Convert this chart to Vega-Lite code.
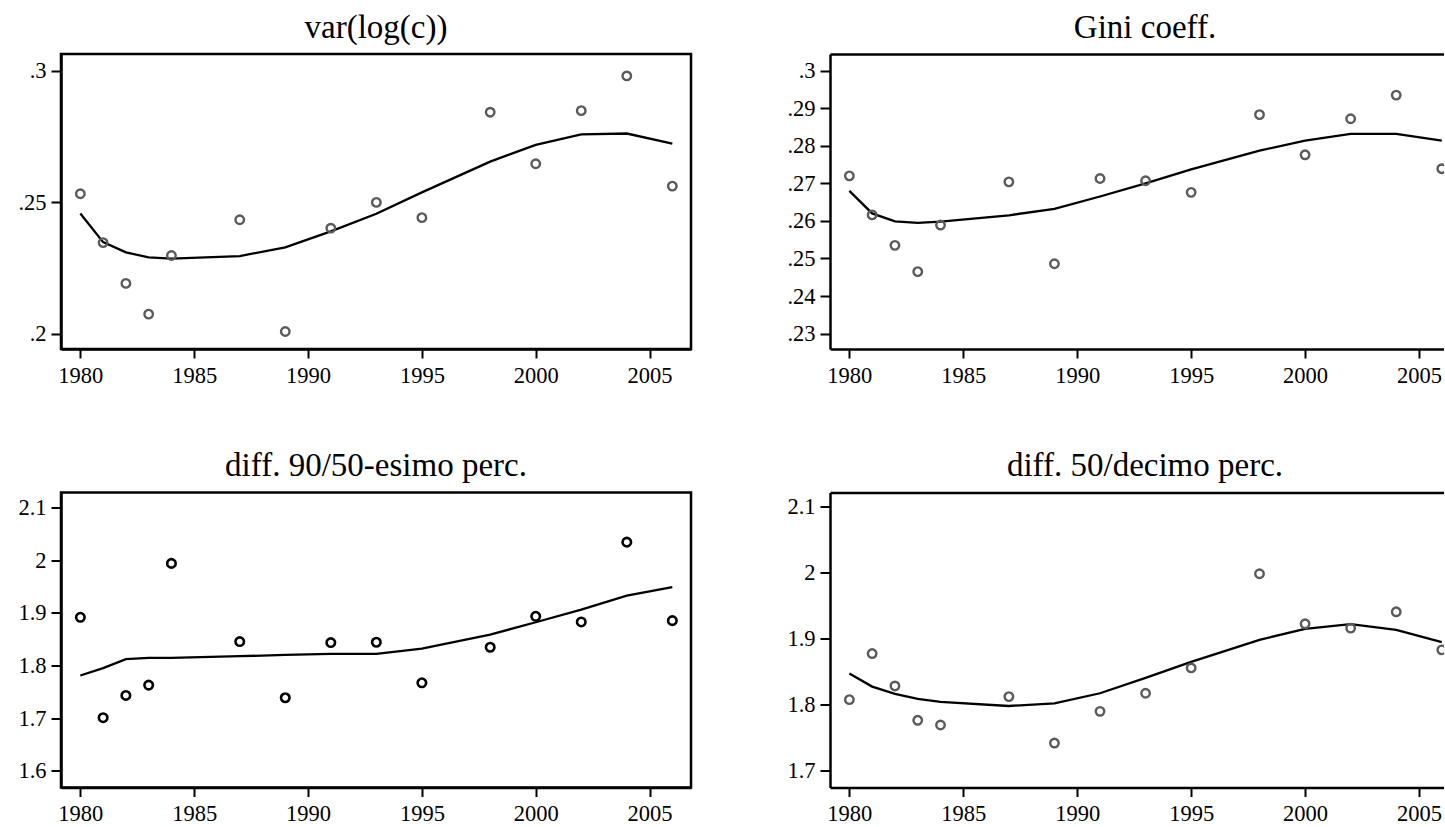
{
  "$schema": "https://vega.github.io/schema/vega-lite/v6.json",
  "background": "white",
  "padding": {"left": 1, "top": 10, "right": 0, "bottom": 0},
  "config": {
    "font": "Liberation Serif",
    "view": {"stroke": "black", "strokeWidth": 2.5},
    "axis": {"grid": false, "domain": true, "domainColor": "black", "domainWidth": 2.5, "tickColor": "black", "tickWidth": 2, "tickSize": 10, "labelFont": "Liberation Serif", "labelFontSize": 22.5, "labelColor": "black", "title": null, "labelFlush": false, "labelOverlap": false},
    "axisY": {"labelPadding": 5, "minExtent": 58, "maxExtent": 58},
    "axisX": {"tickSize": 9, "labelPadding": 6},
    "title": {"font": "Liberation Serif", "fontSize": 33, "fontWeight": "normal", "color": "black", "baseline": "alphabetic", "offset": 9.5, "anchor": "middle"}
  },
  "datasets": {
    "d": [
      {"panel": "var", "year": 1980, "obs": 0.2532, "fit": 0.2457},
      {"panel": "var", "year": 1981, "obs": 0.2346, "fit": 0.2348},
      {"panel": "var", "year": 1982, "obs": 0.2191, "fit": 0.2309},
      {"panel": "var", "year": 1983, "obs": 0.2074, "fit": 0.2290},
      {"panel": "var", "year": 1984, "obs": 0.2297, "fit": 0.2285},
      {"panel": "var", "year": 1987, "obs": 0.2433, "fit": 0.2295},
      {"panel": "var", "year": 1989, "obs": 0.2008, "fit": 0.2328},
      {"panel": "var", "year": 1991, "obs": 0.2401, "fit": 0.2389},
      {"panel": "var", "year": 1993, "obs": 0.2499, "fit": 0.2456},
      {"panel": "var", "year": 1995, "obs": 0.2441, "fit": 0.2537},
      {"panel": "var", "year": 1998, "obs": 0.2842, "fit": 0.2654},
      {"panel": "var", "year": 2000, "obs": 0.2646, "fit": 0.2718},
      {"panel": "var", "year": 2002, "obs": 0.2848, "fit": 0.2758},
      {"panel": "var", "year": 2004, "obs": 0.2980, "fit": 0.2761},
      {"panel": "var", "year": 2006, "obs": 0.2561, "fit": 0.2723},
      {"panel": "gini", "year": 1980, "obs": 0.2720, "fit": 0.2680},
      {"panel": "gini", "year": 1981, "obs": 0.2616, "fit": 0.2620},
      {"panel": "gini", "year": 1982, "obs": 0.2535, "fit": 0.2599},
      {"panel": "gini", "year": 1983, "obs": 0.2465, "fit": 0.2595},
      {"panel": "gini", "year": 1984, "obs": 0.2589, "fit": 0.2598},
      {"panel": "gini", "year": 1987, "obs": 0.2704, "fit": 0.2615},
      {"panel": "gini", "year": 1989, "obs": 0.2486, "fit": 0.2632},
      {"panel": "gini", "year": 1991, "obs": 0.2713, "fit": 0.2665},
      {"panel": "gini", "year": 1993, "obs": 0.2707, "fit": 0.2700},
      {"panel": "gini", "year": 1995, "obs": 0.2676, "fit": 0.2737},
      {"panel": "gini", "year": 1998, "obs": 0.2883, "fit": 0.2787},
      {"panel": "gini", "year": 2000, "obs": 0.2776, "fit": 0.2814},
      {"panel": "gini", "year": 2002, "obs": 0.2872, "fit": 0.2832},
      {"panel": "gini", "year": 2004, "obs": 0.2935, "fit": 0.2832},
      {"panel": "gini", "year": 2006, "obs": 0.2739, "fit": 0.2814},
      {"panel": "p9050", "year": 1980, "obs": 1.8915, "fit": 1.7810},
      {"panel": "p9050", "year": 1981, "obs": 1.7008, "fit": 1.7949},
      {"panel": "p9050", "year": 1982, "obs": 1.7431, "fit": 1.8119},
      {"panel": "p9050", "year": 1983, "obs": 1.7627, "fit": 1.8145},
      {"panel": "p9050", "year": 1984, "obs": 1.9939, "fit": 1.8145},
      {"panel": "p9050", "year": 1987, "obs": 1.8454, "fit": 1.8176},
      {"panel": "p9050", "year": 1989, "obs": 1.7387, "fit": 1.8201},
      {"panel": "p9050", "year": 1991, "obs": 1.8435, "fit": 1.8220},
      {"panel": "p9050", "year": 1993, "obs": 1.8442, "fit": 1.8220},
      {"panel": "p9050", "year": 1995, "obs": 1.7671, "fit": 1.8322},
      {"panel": "p9050", "year": 1998, "obs": 1.8347, "fit": 1.8587},
      {"panel": "p9050", "year": 2000, "obs": 1.8934, "fit": 1.8821},
      {"panel": "p9050", "year": 2002, "obs": 1.8827, "fit": 1.9061},
      {"panel": "p9050", "year": 2004, "obs": 2.0343, "fit": 1.9326},
      {"panel": "p9050", "year": 2006, "obs": 1.8852, "fit": 1.9490},
      {"panel": "p5010", "year": 1980, "obs": 1.8078, "fit": 1.8473},
      {"panel": "p5010", "year": 1981, "obs": 1.8777, "fit": 1.8276},
      {"panel": "p5010", "year": 1982, "obs": 1.8286, "fit": 1.8165},
      {"panel": "p5010", "year": 1983, "obs": 1.7765, "fit": 1.8089},
      {"panel": "p5010", "year": 1984, "obs": 1.7694, "fit": 1.8043},
      {"panel": "p5010", "year": 1987, "obs": 1.8124, "fit": 1.7982},
      {"panel": "p5010", "year": 1989, "obs": 1.7420, "fit": 1.8023},
      {"panel": "p5010", "year": 1991, "obs": 1.7901, "fit": 1.8175},
      {"panel": "p5010", "year": 1993, "obs": 1.8175, "fit": 1.8408},
      {"panel": "p5010", "year": 1995, "obs": 1.8559, "fit": 1.8651},
      {"panel": "p5010", "year": 1998, "obs": 1.9987, "fit": 1.8985},
      {"panel": "p5010", "year": 2000, "obs": 1.9228, "fit": 1.9152},
      {"panel": "p5010", "year": 2002, "obs": 1.9162, "fit": 1.9223},
      {"panel": "p5010", "year": 2004, "obs": 1.9410, "fit": 1.9137},
      {"panel": "p5010", "year": 2006, "obs": 1.8833, "fit": 1.8949}
    ]
  },
  "spacing": 60.5,
  "vconcat": [
    {
      "spacing": 79,
      "hconcat": [
        {
          "title": "var(log(c))",
          "width": 630, "height": 295,
          "data": {"name": "d"},
          "transform": [{"filter": "datum.panel === 'var'"}],
          "encoding": {"x": {"field": "year", "type": "quantitative", "scale": {"domain": [1979.15, 2006.82], "nice": false, "zero": false}, "axis": {"values": [1980, 1985, 1990, 1995, 2000, 2005], "format": "d"}}},
          "layer": [
            {"mark": {"type": "line", "color": "black", "strokeWidth": 2.3}, "encoding": {"y": {"field": "fit", "type": "quantitative", "scale": {"domain": [0.19415, 0.30634], "nice": false, "zero": false}, "axis": {"values": [0.2, 0.25, 0.3], "labelExpr": "replace(toString(datum.value), /^0/, '')"}}}},
            {"mark": {"type": "point", "shape": "circle", "filled": false, "color": "#5a5a5a", "strokeWidth": 2.4, "size": 72, "opacity": 1}, "encoding": {"y": {"field": "obs", "type": "quantitative"}}}
          ]
        },
        {
          "title": {"text": "Gini coeff.", "dx": 8},
          "width": 614, "height": 295,
          "view": {"stroke": null},
          "data": {"name": "d"},
          "transform": [{"filter": "datum.panel === 'gini'"}],
          "resolve": {"axis": {"x": "independent"}},
          "layer": [
            {
              "encoding": {"x": {"field": "year", "type": "quantitative", "scale": {"domain": [1979.15, 2006.097], "nice": false, "zero": false}, "axis": {"values": [1980, 1985, 1990, 1995, 2000, 2005], "format": "d"}}},
              "layer": [
                {"mark": {"type": "line", "color": "black", "strokeWidth": 2.3, "clip": true}, "encoding": {"y": {"field": "fit", "type": "quantitative", "scale": {"domain": [0.2259, 0.30444], "nice": false, "zero": false}, "axis": {"values": [0.23, 0.24, 0.25, 0.26, 0.27, 0.28, 0.29, 0.3], "labelExpr": "replace(toString(datum.value), /^0/, '')"}}}},
                {"mark": {"type": "point", "shape": "circle", "filled": false, "color": "#5a5a5a", "strokeWidth": 2.4, "size": 72, "opacity": 1, "clip": true}, "encoding": {"y": {"field": "obs", "type": "quantitative"}}}
              ]
            },
            {"mark": {"type": "point", "opacity": 0, "clip": true}, "encoding": {"x": {"field": "year", "type": "quantitative", "axis": {"orient": "top", "labels": false, "ticks": false, "domain": true}}}}
          ]
        }
      ]
    },
    {
      "spacing": 79,
      "hconcat": [
        {
          "title": "diff. 90/50-esimo perc.",
          "width": 630, "height": 295,
          "data": {"name": "d"},
          "transform": [{"filter": "datum.panel === 'p9050'"}],
          "encoding": {"x": {"field": "year", "type": "quantitative", "scale": {"domain": [1979.15, 2006.82], "nice": false, "zero": false}, "axis": {"values": [1980, 1985, 1990, 1995, 2000, 2005], "format": "d"}}},
          "layer": [
            {"mark": {"type": "line", "color": "black", "strokeWidth": 2.3}, "encoding": {"y": {"field": "fit", "type": "quantitative", "scale": {"domain": [1.5682, 2.1286], "nice": false, "zero": false}, "axis": {"values": [1.6, 1.7, 1.8, 1.9, 2, 2.1], "labelExpr": "toString(datum.value)"}}}},
            {"mark": {"type": "point", "shape": "circle", "filled": false, "color": "black", "strokeWidth": 2.6, "size": 72, "opacity": 1}, "encoding": {"y": {"field": "obs", "type": "quantitative"}}}
          ]
        },
        {
          "title": {"text": "diff. 50/decimo perc.", "dx": 8},
          "width": 614, "height": 295,
          "view": {"stroke": null},
          "data": {"name": "d"},
          "transform": [{"filter": "datum.panel === 'p5010'"}],
          "resolve": {"axis": {"x": "independent"}},
          "layer": [
            {
              "encoding": {"x": {"field": "year", "type": "quantitative", "scale": {"domain": [1979.15, 2006.097], "nice": false, "zero": false}, "axis": {"values": [1980, 1985, 1990, 1995, 2000, 2005], "format": "d"}}},
              "layer": [
                {"mark": {"type": "line", "color": "black", "strokeWidth": 2.3, "clip": true}, "encoding": {"y": {"field": "fit", "type": "quantitative", "scale": {"domain": [1.6746, 2.1219], "nice": false, "zero": false}, "axis": {"values": [1.7, 1.8, 1.9, 2, 2.1], "labelExpr": "toString(datum.value)"}}}},
                {"mark": {"type": "point", "shape": "circle", "filled": false, "color": "#5a5a5a", "strokeWidth": 2.4, "size": 72, "opacity": 1, "clip": true}, "encoding": {"y": {"field": "obs", "type": "quantitative"}}}
              ]
            },
            {"mark": {"type": "point", "opacity": 0, "clip": true}, "encoding": {"x": {"field": "year", "type": "quantitative", "axis": {"orient": "top", "labels": false, "ticks": false, "domain": true}}}}
          ]
        }
      ]
    }
  ]
}
